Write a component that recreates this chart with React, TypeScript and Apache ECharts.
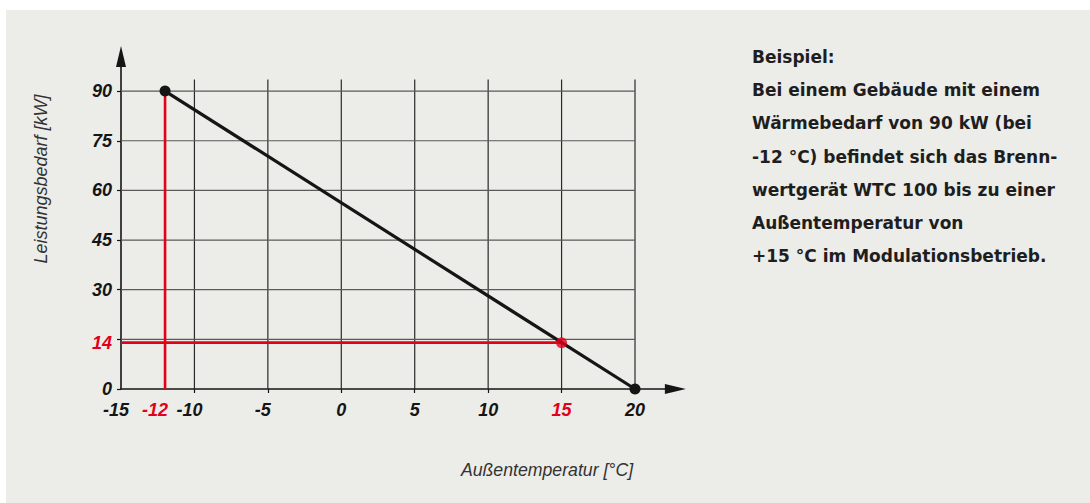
import React, { useEffect, useRef } from "react";
import * as echarts from "echarts";

// ---- data ----
const demandLine: [number, number][] = [
  [-12, 90],
  [20, 0],
];
const operatingPoint: [number, number][] = [[15, 14]];
const designTemp = -12;
const designLoad = 90;
const limitTemp = 15;
const limitLoad = 14;

const xLabelValues = [-15, -12, -10, -5, 0, 5, 10, 15, 20];
const xTickValues = [-10, -5, 0, 5, 10, 15, 20];
const xGridValues = [-10, -5, 0, 5, 10, 15, 20];
const yLabelValues = [0, 14, 30, 45, 60, 75, 90];
const yTickValues = [0, 15, 30, 45, 60, 75, 90];
const yGridValues = [15, 30, 45, 60, 75, 90];
const redXLabels = [-12, 15];
const redYLabels = [14];

const xName = "Außentemperatur [°C]";
const yName = "Leistungsbedarf [kW]";
const noteLines = [
  "Beispiel:",
  "Bei einem Gebäude mit einem",
  "Wärmebedarf von 90 kW (bei",
  "-12 °C) befindet sich das Brenn-",
  "wertgerät WTC 100 bis zu einer",
  "Außentemperatur von",
  "+15 °C im Modulationsbetrieb.",
];

const X_MIN = -15;
const X_MAX = 22.75;
const Y_MIN = 0;
const Y_MAX = 100;
const GRID_X_END = 20;
const GRID_Y_END = 93.5;

const RED = "#e2001a";
const BLACK = "#151515";

export default function App() {
  const ref = useRef<HTMLDivElement>(null);

  useEffect(() => {
    if (!ref.current) return;
    const chart = echarts.init(ref.current, undefined, { renderer: "svg" });

    const gridSeries: any[] = [];
    xGridValues.forEach((v) => {
      gridSeries.push({
        type: "line",
        data: [
          [v, Y_MIN],
          [v, GRID_Y_END],
        ],
        symbol: "none",
        silent: true,
        lineStyle: { color: "#2a2a2a", width: 1.2 },
        z: 1,
      });
    });
    yGridValues.forEach((v) => {
      gridSeries.push({
        type: "line",
        data: [
          [X_MIN, v],
          [GRID_X_END, v],
        ],
        symbol: "none",
        silent: true,
        lineStyle: { color: "#5a5a5a", width: 1.2 },
        z: 1,
      });
    });

    const labelFont = {
      fontFamily: "Liberation Sans",
      fontStyle: "italic" as const,
      fontWeight: "bold" as const,
      fontSize: 18,
    };

    chart.setOption({
      animation: false,
      backgroundColor: "#ffffff",
      graphic: [
        {
          type: "rect",
          shape: { x: 6, y: 10, width: 1084, height: 493 },
          style: { fill: "#ececE8" },
          z: -10,
          silent: true,
        },
        {
          type: "text",
          x: 41,
          y: 179,
          rotation: Math.PI / 2,
          style: {
            text: yName,
            fontFamily: "Liberation Sans",
            fontStyle: "italic",
            fontSize: 18,
            fill: "#333333",
            textAlign: "center",
            textVerticalAlign: "middle",
          },
        },
        {
          type: "text",
          x: 547,
          y: 470,
          style: {
            text: xName,
            fontFamily: "Liberation Sans",
            fontStyle: "italic",
            fontSize: 17.7,
            fill: "#333333",
            textAlign: "center",
            textVerticalAlign: "middle",
          },
        },
        {
          type: "text",
          x: 752,
          y: 40,
          style: {
            text: noteLines.join("\n"),
            fontFamily: "DejaVu Sans",
            fontWeight: "bold",
            fontSize: 17,
            lineHeight: 33.3,
            fill: "#1e1e1e",
            textAlign: "left",
            textVerticalAlign: "top",
          },
        },
      ],
      grid: { left: 121, right: 414.6, top: 58, bottom: 114, containLabel: false },
      xAxis: {
        type: "value",
        min: X_MIN,
        max: X_MAX,
        splitLine: { show: false },
        axisLine: {
          show: true,
          onZero: false,
          lineStyle: { color: BLACK, width: 1.6 },
          symbol: ["none", "triangle"],
          symbolSize: [10, 21],
        },
        axisTick: {
          show: true,
          customValues: xTickValues,
          length: 4,
          lineStyle: { color: BLACK, width: 1.2 },
        },
        axisLabel: {
          customValues: xLabelValues,
          margin: 12,
          formatter: (v: number) => {
            const s = String(v);
            if (v === -12) return `{rn|${s}}`;
            if (redXLabels.includes(v)) return `{r|${s}}`;
            if (v < 0) return `{kn|${s}}`;
            return `{k|${s}}`;
          },
          rich: {
            k: { ...labelFont, color: BLACK },
            kn: { ...labelFont, color: BLACK, padding: [0, 10, 0, 0] },
            r: { ...labelFont, color: RED },
            rn: { ...labelFont, color: RED, padding: [0, 20, 0, 0] },
          },
        },
      },
      yAxis: {
        type: "value",
        min: Y_MIN,
        max: Y_MAX,
        splitLine: { show: false },
        axisLine: {
          show: true,
          onZero: false,
          lineStyle: { color: BLACK, width: 1.6 },
          symbol: ["none", "triangle"],
          symbolSize: [10, 21],
          symbolOffset: [0, 1.5],
        },
        axisTick: {
          show: true,
          customValues: yTickValues,
          length: 4,
          lineStyle: { color: BLACK, width: 1.2 },
        },
        axisLabel: {
          customValues: yLabelValues,
          margin: 9,
          formatter: (v: number) =>
            redYLabels.includes(v) ? `{r|${v}}` : `{k|${v}}`,
          rich: {
            k: { ...labelFont, color: BLACK },
            r: { ...labelFont, color: RED },
          },
        },
      },
      series: [
        ...gridSeries,
        {
          type: "line",
          data: [
            [designTemp, Y_MIN],
            [designTemp, designLoad],
          ],
          symbol: "none",
          lineStyle: { color: RED, width: 2.6 },
          z: 3,
        },
        {
          type: "line",
          data: [
            [X_MIN, limitLoad],
            [limitTemp, limitLoad],
          ],
          symbol: "none",
          lineStyle: { color: RED, width: 2.6 },
          z: 3,
        },
        {
          type: "line",
          data: demandLine,
          symbol: "circle",
          symbolSize: 11,
          itemStyle: { color: BLACK },
          lineStyle: { color: BLACK, width: 3.2 },
          z: 5,
        },
        {
          type: "scatter",
          data: operatingPoint,
          symbolSize: 11,
          itemStyle: { color: RED },
          z: 6,
        },
      ],
    });

    return () => chart.dispose();
  }, []);

  return (
    <div
      ref={ref}
      style={{ position: "fixed", left: 0, top: 0, width: 1090, height: 503 }}
    />
  );
}
